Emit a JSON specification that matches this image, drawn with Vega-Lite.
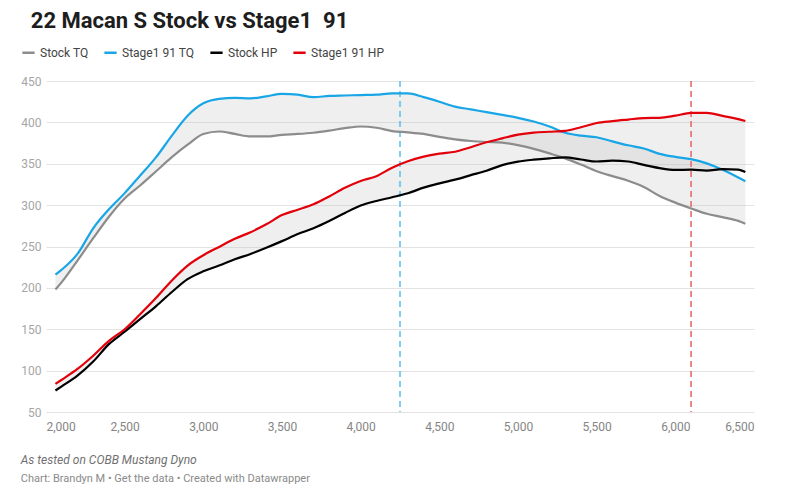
{
  "$schema": "https://vega.github.io/schema/vega-lite/v6.json",
  "background": "white",
  "padding": {"left": 20, "top": 10, "right": 15, "bottom": 8},
  "title": {"text": "22 Macan S Stock vs Stage1\u00a0 91", "anchor": "start", "frame": "bounds", "dx": 10, "fontSize": 22, "font": "Roboto", "fontWeight": 700, "color": "#1d1d1d", "offset": 12},
  "config": {
    "view": {"stroke": null},
    "font": "Roboto",
    "legend": {"labelFont": "Roboto", "labelFontSize": 12, "labelColor": "#444"}
  },
  "datasets": {
    "dyno": [
      {"rpm": 2060, "Stock TQ": 198, "Stage1 91 TQ": 216, "Stock HP": 76, "Stage1 91 HP": 84},
      {"rpm": 2100, "Stock TQ": 207, "Stage1 91 TQ": 222, "Stock HP": 81, "Stage1 91 HP": 89},
      {"rpm": 2200, "Stock TQ": 233, "Stage1 91 TQ": 241, "Stock HP": 94, "Stage1 91 HP": 102},
      {"rpm": 2300, "Stock TQ": 260, "Stage1 91 TQ": 272, "Stock HP": 111, "Stage1 91 HP": 118},
      {"rpm": 2400, "Stock TQ": 286, "Stage1 91 TQ": 295, "Stock HP": 132, "Stage1 91 HP": 136},
      {"rpm": 2500, "Stock TQ": 308, "Stage1 91 TQ": 314.5, "Stock HP": 147, "Stage1 91 HP": 150},
      {"rpm": 2600, "Stock TQ": 324, "Stage1 91 TQ": 336, "Stock HP": 162.5, "Stage1 91 HP": 168.5},
      {"rpm": 2700, "Stock TQ": 341, "Stage1 91 TQ": 358, "Stock HP": 178, "Stage1 91 HP": 188},
      {"rpm": 2800, "Stock TQ": 358, "Stage1 91 TQ": 384, "Stock HP": 195, "Stage1 91 HP": 209},
      {"rpm": 2900, "Stock TQ": 373, "Stage1 91 TQ": 408, "Stock HP": 210.5, "Stage1 91 HP": 227},
      {"rpm": 3000, "Stock TQ": 386, "Stage1 91 TQ": 423, "Stock HP": 220, "Stage1 91 HP": 239.5},
      {"rpm": 3100, "Stock TQ": 389, "Stage1 91 TQ": 428.5, "Stock HP": 227, "Stage1 91 HP": 249.5},
      {"rpm": 3200, "Stock TQ": 386, "Stage1 91 TQ": 429.5, "Stock HP": 234.5, "Stage1 91 HP": 259.3},
      {"rpm": 3300, "Stock TQ": 383, "Stage1 91 TQ": 429, "Stock HP": 241, "Stage1 91 HP": 267.3},
      {"rpm": 3400, "Stock TQ": 383, "Stage1 91 TQ": 431.5, "Stock HP": 248.5, "Stage1 91 HP": 276.8},
      {"rpm": 3500, "Stock TQ": 385, "Stage1 91 TQ": 434.5, "Stock HP": 256.5, "Stage1 91 HP": 288},
      {"rpm": 3600, "Stock TQ": 386, "Stage1 91 TQ": 433.5, "Stock HP": 265, "Stage1 91 HP": 294.5},
      {"rpm": 3700, "Stock TQ": 387.5, "Stage1 91 TQ": 430.5, "Stock HP": 272, "Stage1 91 HP": 301},
      {"rpm": 3800, "Stock TQ": 390, "Stage1 91 TQ": 432, "Stock HP": 280.7, "Stage1 91 HP": 310.5},
      {"rpm": 3900, "Stock TQ": 393, "Stage1 91 TQ": 432.5, "Stock HP": 290.5, "Stage1 91 HP": 321},
      {"rpm": 4000, "Stock TQ": 395, "Stage1 91 TQ": 433, "Stock HP": 299.5, "Stage1 91 HP": 329.2},
      {"rpm": 4100, "Stock TQ": 393.5, "Stage1 91 TQ": 433.5, "Stock HP": 305, "Stage1 91 HP": 335},
      {"rpm": 4200, "Stock TQ": 389.5, "Stage1 91 TQ": 435, "Stock HP": 309.5, "Stage1 91 HP": 345.3},
      {"rpm": 4300, "Stock TQ": 388, "Stage1 91 TQ": 435, "Stock HP": 314.3, "Stage1 91 HP": 353},
      {"rpm": 4400, "Stock TQ": 386, "Stage1 91 TQ": 430.5, "Stock HP": 321.1, "Stage1 91 HP": 358.6},
      {"rpm": 4500, "Stock TQ": 382.5, "Stage1 91 TQ": 425, "Stock HP": 326.3, "Stage1 91 HP": 362.2},
      {"rpm": 4600, "Stock TQ": 379.5, "Stage1 91 TQ": 419, "Stock HP": 330.8, "Stage1 91 HP": 364.5},
      {"rpm": 4700, "Stock TQ": 377.5, "Stage1 91 TQ": 415.7, "Stock HP": 336.2, "Stage1 91 HP": 370},
      {"rpm": 4800, "Stock TQ": 376.3, "Stage1 91 TQ": 412.3, "Stock HP": 341.5, "Stage1 91 HP": 376},
      {"rpm": 4900, "Stock TQ": 375.5, "Stage1 91 TQ": 409, "Stock HP": 348.4, "Stage1 91 HP": 380.7},
      {"rpm": 5000, "Stock TQ": 372.5, "Stage1 91 TQ": 405.5, "Stock HP": 352.6, "Stage1 91 HP": 385.1},
      {"rpm": 5100, "Stock TQ": 368, "Stage1 91 TQ": 401, "Stock HP": 355, "Stage1 91 HP": 387.6},
      {"rpm": 5200, "Stock TQ": 362.5, "Stage1 91 TQ": 395, "Stock HP": 356.6, "Stage1 91 HP": 388.7},
      {"rpm": 5300, "Stock TQ": 356.5, "Stage1 91 TQ": 387.5, "Stock HP": 357.7, "Stage1 91 HP": 389.8},
      {"rpm": 5400, "Stock TQ": 349, "Stage1 91 TQ": 384, "Stock HP": 355.1, "Stage1 91 HP": 394.1},
      {"rpm": 5500, "Stock TQ": 341, "Stage1 91 TQ": 382, "Stock HP": 352.7, "Stage1 91 HP": 399.2},
      {"rpm": 5600, "Stock TQ": 335, "Stage1 91 TQ": 377, "Stock HP": 353.8, "Stage1 91 HP": 401.5},
      {"rpm": 5700, "Stock TQ": 329.5, "Stage1 91 TQ": 372.3, "Stock HP": 352.7, "Stage1 91 HP": 403.4},
      {"rpm": 5800, "Stock TQ": 322, "Stage1 91 TQ": 368.5, "Stock HP": 348.6, "Stage1 91 HP": 405.2},
      {"rpm": 5900, "Stock TQ": 311, "Stage1 91 TQ": 362, "Stock HP": 344.7, "Stage1 91 HP": 405.5},
      {"rpm": 6000, "Stock TQ": 303, "Stage1 91 TQ": 358.3, "Stock HP": 342.6, "Stage1 91 HP": 408.1},
      {"rpm": 6100, "Stock TQ": 296, "Stage1 91 TQ": 355.5, "Stock HP": 342.8, "Stage1 91 HP": 411.4},
      {"rpm": 6200, "Stock TQ": 289.5, "Stage1 91 TQ": 350.5, "Stock HP": 341.7, "Stage1 91 HP": 411.6},
      {"rpm": 6300, "Stock TQ": 285.5, "Stage1 91 TQ": 342.8, "Stock HP": 343.6, "Stage1 91 HP": 407.8},
      {"rpm": 6400, "Stock TQ": 281, "Stage1 91 TQ": 333.4, "Stock HP": 343, "Stage1 91 HP": 404},
      {"rpm": 6445, "Stock TQ": 277.6, "Stage1 91 TQ": 328.8, "Stock HP": 340, "Stage1 91 HP": 401.6}
    ],
    "markers": [
      {"rpm": 4250, "which": "TQ peak"},
      {"rpm": 6100, "which": "HP peak"}
    ]
  },
  "vconcat": [
    {
      "width": 708,
      "height": 331,
      "title": {
        "text": "As tested on COBB Mustang Dyno",
        "subtitle": "Chart: Brandyn M • Get the data • Created with Datawrapper",
        "orient": "bottom",
        "anchor": "start",
        "frame": "bounds",
        "offset": 23,
        "font": "Roboto",
        "fontSize": 12,
        "fontStyle": "italic",
        "fontWeight": "normal",
        "color": "#707070",
        "subtitleFont": "Roboto",
        "subtitleFontSize": 11,
        "subtitleColor": "#8a8a8a",
        "subtitlePadding": 6
      },
      "encoding": {
        "x": {
          "field": "rpm", "type": "quantitative",
          "scale": {"domain": [2000, 6500], "nice": false, "zero": false},
          "axis": {"title": null, "values": [2000, 2500, 3000, 3500, 4000, 4500, 5000, 5500, 6000, 6500], "labelExpr": "format(datum.value, ',')", "domain": false, "ticks": false, "grid": false, "labelColor": "#858585", "labelFontSize": 12, "labelFont": "Roboto", "labelPadding": 9}
        }
      },
      "layer": [
        {
          "data": {"name": "dyno"},
          "mark": {"type": "area", "color": "#bfbfbf", "opacity": 0.25, "interpolate": "monotone"},
          "encoding": {
            "y": {"field": "Stock TQ", "type": "quantitative"},
            "y2": {"field": "Stage1 91 TQ"}
          }
        },
        {
          "data": {"name": "dyno"},
          "mark": {"type": "area", "color": "#bfbfbf", "opacity": 0.25, "interpolate": "monotone"},
          "encoding": {
            "y": {"field": "Stock HP", "type": "quantitative"},
            "y2": {"field": "Stage1 91 HP"}
          }
        },
        {
          "data": {"name": "markers"},
          "transform": [{"filter": "datum.which == 'TQ peak'"}],
          "mark": {"type": "rule", "color": "#5ec5ee", "strokeWidth": 1.6, "strokeDash": [6, 4]},
          "encoding": {}
        },
        {
          "data": {"name": "markers"},
          "transform": [{"filter": "datum.which == 'HP peak'"}],
          "mark": {"type": "rule", "color": "#ea6b6b", "strokeWidth": 1.6, "strokeDash": [6, 4]},
          "encoding": {}
        },
        {
          "data": {"name": "dyno"},
          "transform": [{"fold": ["Stock TQ", "Stage1 91 TQ", "Stock HP", "Stage1 91 HP"], "as": ["series", "value"]}],
          "mark": {"type": "line", "strokeWidth": 2.2, "interpolate": "monotone"},
          "encoding": {
            "y": {
              "field": "value", "type": "quantitative",
              "scale": {"domain": [50, 450], "nice": false, "zero": false},
              "axis": {"title": null, "values": [50, 100, 150, 200, 250, 300, 350, 400, 450], "domain": false, "ticks": false, "grid": true, "gridColor": "#e3e3e3", "gridWidth": 1, "labelColor": "#a6a6a6", "labelFontSize": 12, "labelFont": "Roboto", "labelPadding": 5}
            },
            "color": {
              "field": "series", "type": "nominal",
              "scale": {"domain": ["Stock TQ", "Stage1 91 TQ", "Stock HP", "Stage1 91 HP"], "range": ["#8c8c8c", "#18a6e6", "#000000", "#e3000b"]},
              "legend": {"title": null, "orient": "none", "legendX": -25, "legendY": -36, "direction": "horizontal", "symbolType": "stroke", "symbolStrokeWidth": 2.5, "symbolSize": 150, "labelFontSize": 12, "labelColor": "#444", "columnPadding": 10, "symbolOffset": 0}
            },
            "order": {"field": "rpm"}
          }
        }
      ]
    }
  ]
}
